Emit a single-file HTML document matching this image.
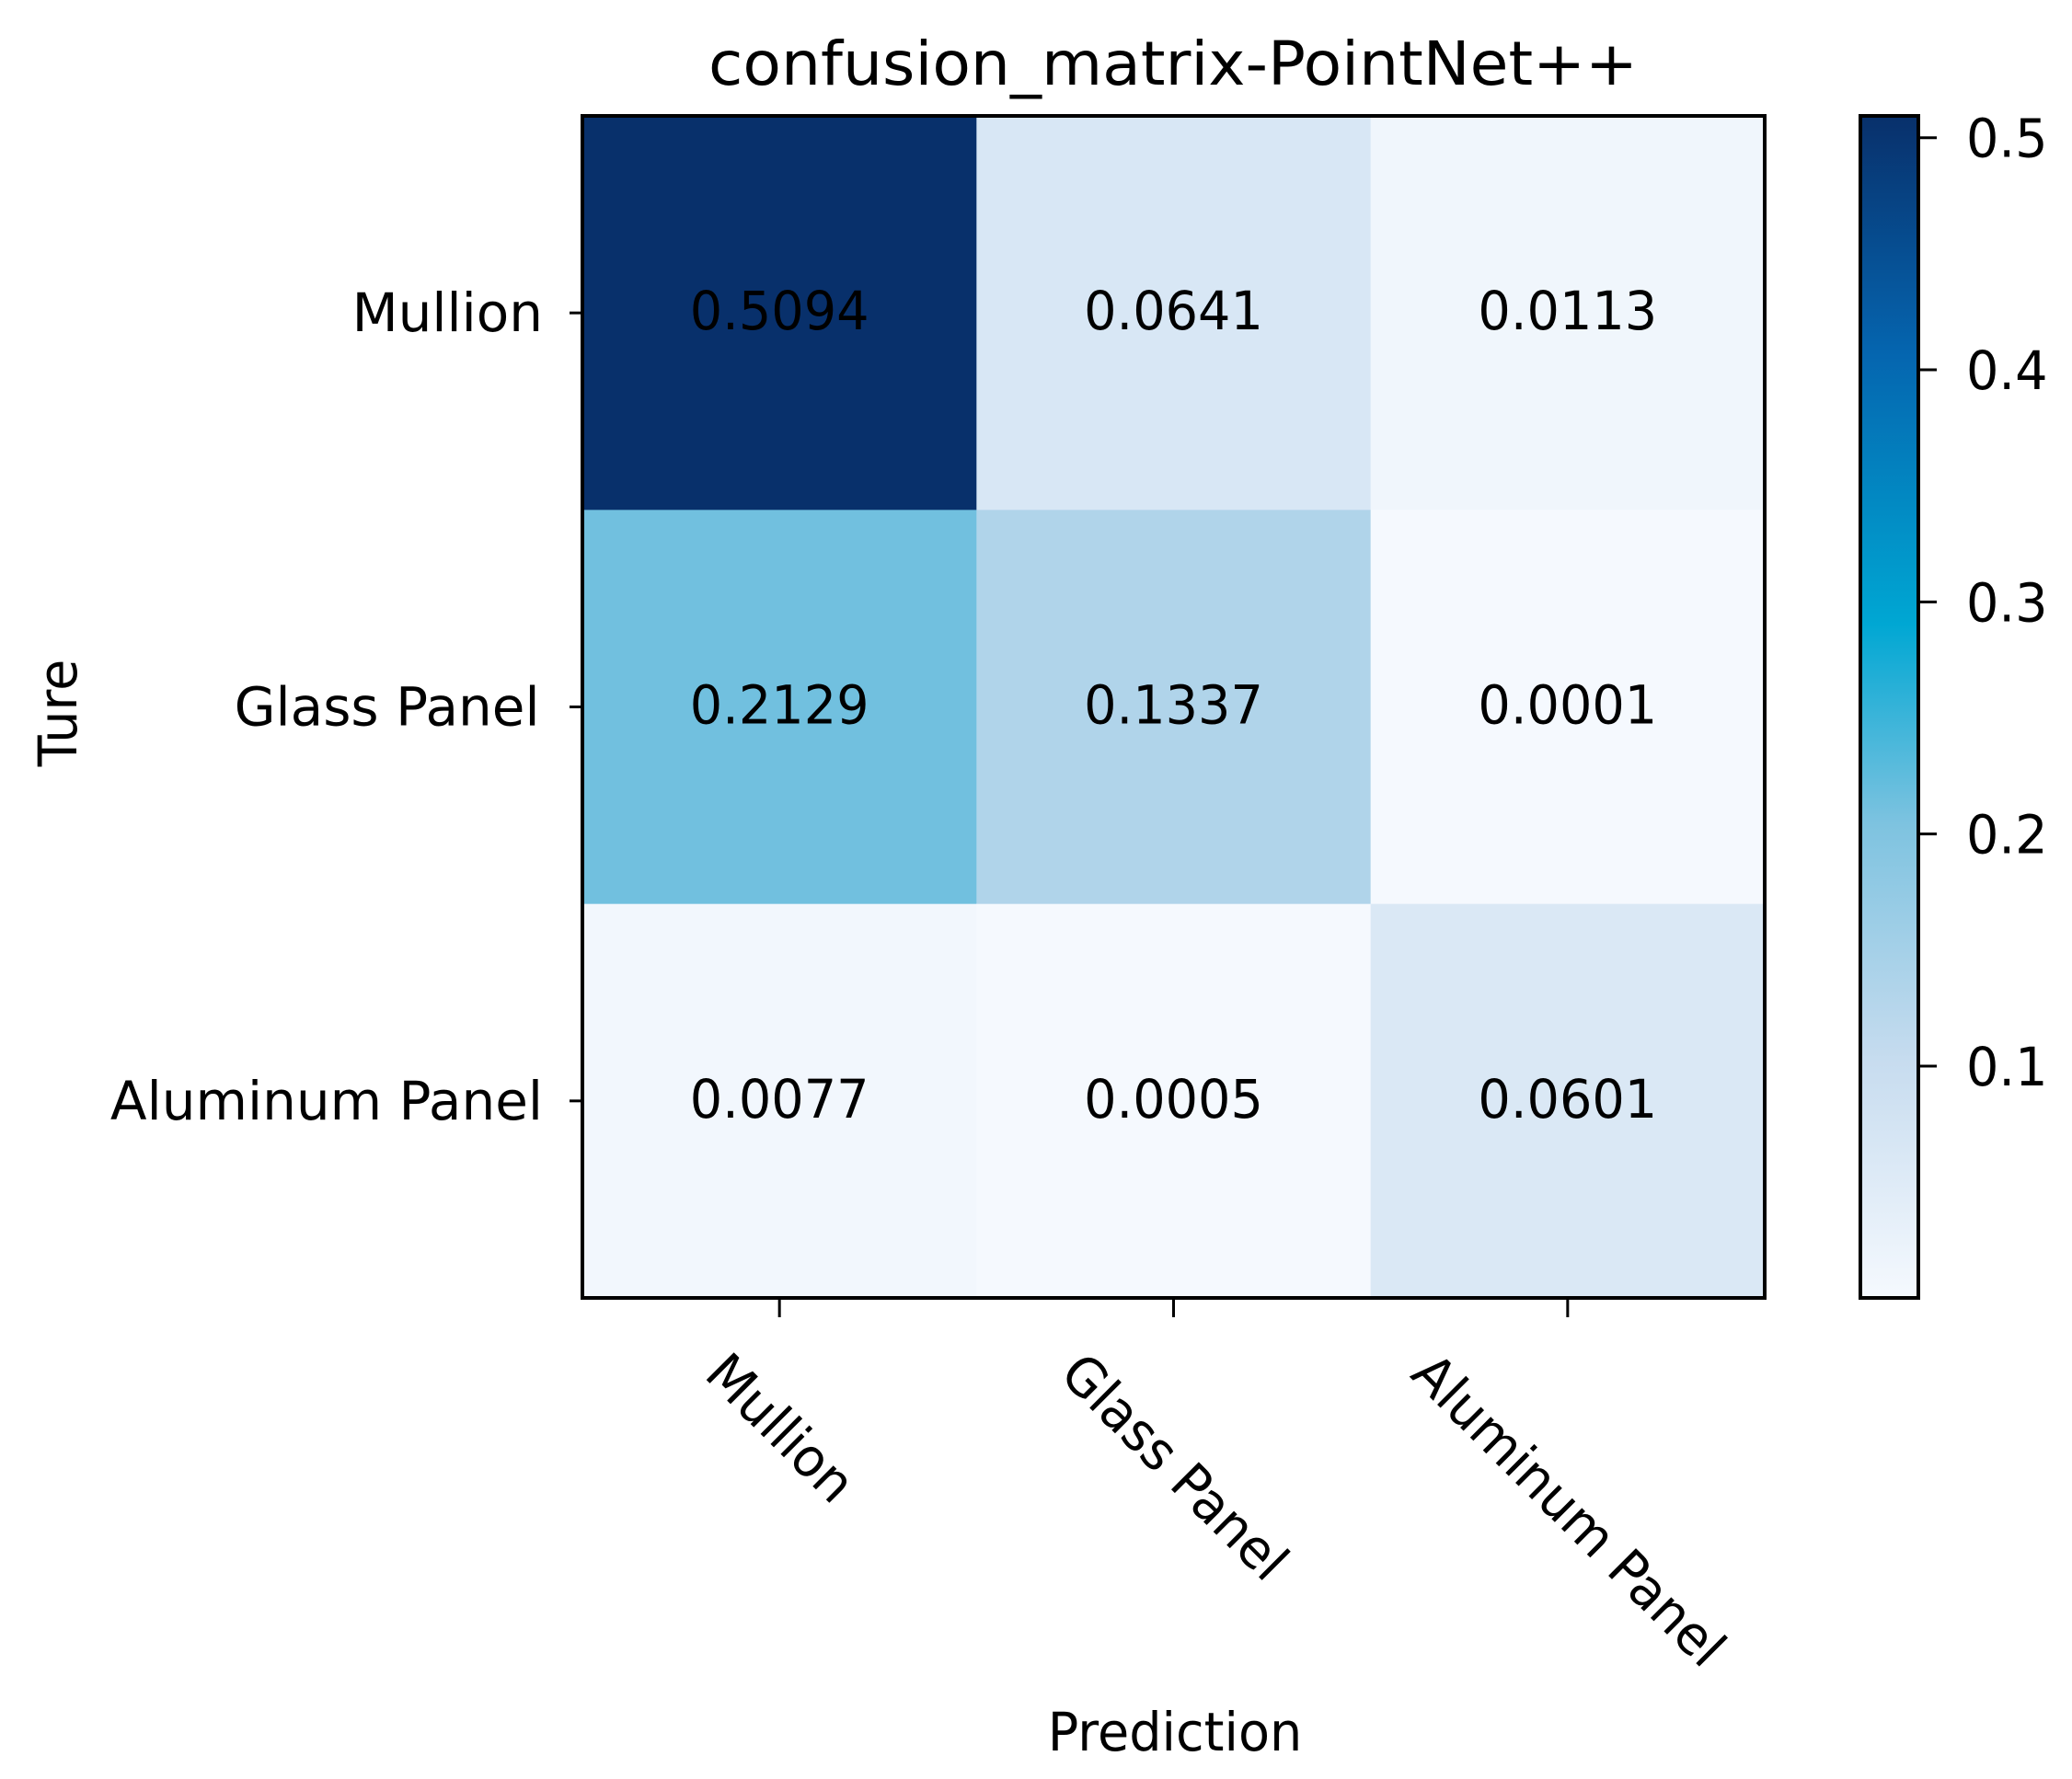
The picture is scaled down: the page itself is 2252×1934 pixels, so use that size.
<!DOCTYPE html>
<html><head><meta charset="utf-8"><style>
html,body{margin:0;padding:0;background:#fff;}
svg{display:block;}
text{font-family:"DejaVu Sans","Liberation Sans",sans-serif;fill:#000;white-space:pre;}
</style></head><body>
<svg id="chart" width="2252" height="1934" viewBox="0 0 2252 1934" xmlns="http://www.w3.org/2000/svg">
<defs>
<linearGradient id="cbgrad" x1="0" y1="1" x2="0" y2="0"></linearGradient>
</defs>
<g id="cells"></g>
<g id="labels"></g>
<rect x="633" y="126" width="1285" height="1285" fill="none" stroke="#000" stroke-width="4"/>
<g id="yticks"></g>
<g id="xticks"></g>
<rect id="cbar" x="2022" y="126" width="63" height="1285" fill="url(#cbgrad)" stroke="#000" stroke-width="4"/>
<g id="cbticks"></g>
<text x="1275" y="92" font-size="66" text-anchor="middle" textLength="1010" lengthAdjust="spacingAndGlyphs">confusion_matrix-PointNet++</text>
<text id="xtitle" x="1277" y="1903" font-size="58" text-anchor="middle">Prediction</text>
<text id="ytitle" transform="translate(83,775) rotate(-90)" font-size="58" text-anchor="middle">Ture</text>
</svg>
<script>
const rowLabels = ["Mullion", "Glass Panel ", "Aluminum Panel"];
const colLabels = ["Mullion", "Glass Panel", "Aluminum Panel"];
const row0 = [0.5094, 0.0641, 0.0113];
const row1 = [0.2129, 0.1337, 0.0001];
const row2 = [0.0077, 0.0005, 0.0601];
const cbTicks = [0.1, 0.2, 0.3, 0.4, 0.5];
const cbTickLabels = ["0.1", "0.2", "0.3", "0.4", "0.5"];
const cmapPos = [0, 0.2, 0.4, 0.57, 0.8, 1];
const cmapCol = ["#f5f9fe", "#c7dcef", "#7ec3e0", "#00a7d3", "#0565af", "#08306b"];

const NS = "http://www.w3.org/2000/svg";
const matrix = [row0, row1, row2];
const X0 = 633, Y0 = 126, W = 1285, H = 1285;
const n = colLabels.length;
const cw = W / n, ch = H / rowLabels.length;
const all = matrix.flat();
const vmin = Math.min(...all), vmax = Math.max(...all);
const xc = j => X0 + (j + 0.5) * cw;
const yc = i => Y0 + (i + 0.5) * ch;
const cbY = v => Y0 + H - (v - vmin) / (vmax - vmin) * H;
const SQ = 0.96;

function hex(c){return [1,3,5].map(k=>parseInt(c.substr(k,2),16));}
function cmap(t){
  t = Math.max(0, Math.min(1, t));
  for (let k = 1; k < cmapPos.length; k++) {
    if (t <= cmapPos[k]) {
      const f = (t - cmapPos[k-1]) / (cmapPos[k] - cmapPos[k-1]);
      const a = hex(cmapCol[k-1]), b = hex(cmapCol[k]);
      return "rgb(" + a.map((v, q) => Math.round(v + (b[q] - v) * f)).join(",") + ")";
    }
  }
  return cmapCol[cmapCol.length-1];
}
function mk(tag, attrs, parent){
  const e = document.createElementNS(NS, tag);
  for (const k in attrs) e.setAttribute(k, attrs[k]);
  parent.appendChild(e);
  return e;
}
function squeeze(t){
  const L = t.getComputedTextLength();
  if (L > 0) {
    t.setAttribute("textLength", L * SQ);
    t.setAttribute("lengthAdjust", "spacingAndGlyphs");
  }
  return L * SQ;
}
const gc = document.getElementById("cells"), gl = document.getElementById("labels");
matrix.forEach((row, i) => row.forEach((v, j) => {
  const r = mk("rect", {x: X0 + j*cw, y: Y0 + i*ch, width: cw + 0.5, height: ch + 0.5, fill: cmap((v - vmin)/(vmax - vmin))}, gc);
  
  
  const t = mk("text", {x: xc(j), y: yc(i) + 18, "font-size": 58, "text-anchor": "middle"}, gl);
  t.textContent = v.toFixed(4);
  
  
  squeeze(t);
}));
const gy = document.getElementById("yticks");
rowLabels.forEach((lab, i) => {
  const l = mk("line", {x1: X0 - 14, x2: X0, y1: yc(i), y2: yc(i), stroke: "#000", "stroke-width": 3}, gy);
  
  
  const t = mk("text", {x: X0 - 43 + (lab.endsWith(" ") ? 15 : 0), y: yc(i) + 20, "font-size": 58, "text-anchor": "end"}, gy);
  t.textContent = lab;
  
  
});
const gx = document.getElementById("xticks");
colLabels.forEach((lab, j) => {
  const l = mk("line", {x1: xc(j), x2: xc(j), y1: Y0 + H, y2: Y0 + H + 21, stroke: "#000", "stroke-width": 3}, gx);
  
  
  const t = mk("text", {"font-size": 58, "text-anchor": "middle"}, gx);
  t.textContent = lab;
  
  
  const L = t.getComputedTextLength() * 0.96;
  t.setAttribute("textLength", L);
  t.setAttribute("lengthAdjust", "spacingAndGlyphs");
  const h = 52;
  const bh = (L + h) * Math.SQRT1_2;
  const cy = 1465 + bh / 2;
  t.setAttribute("transform", "translate(" + xc(j) + "," + cy + ") rotate(45) translate(0," + (h*0.35) + ")");
});
const grad = document.getElementById("cbgrad");
cmapPos.forEach((p, k) => {
  mk("stop", {offset: p, "stop-color": cmapCol[k]}, grad);
});
const gt = document.getElementById("cbticks");
cbTicks.forEach((v, k) => {
  const y = cbY(v);
  const l = mk("line", {x1: 2085, x2: 2105, y1: y, y2: y, stroke: "#000", "stroke-width": 3}, gt);
  
  
  const t = mk("text", {x: 2137, y: y + 21, "font-size": 58}, gt);
  t.textContent = cbTickLabels[k];
  
  
  squeeze(t);
});
squeeze(document.getElementById("xtitle"));
squeeze(document.getElementById("ytitle"));
</script>
</body></html>
